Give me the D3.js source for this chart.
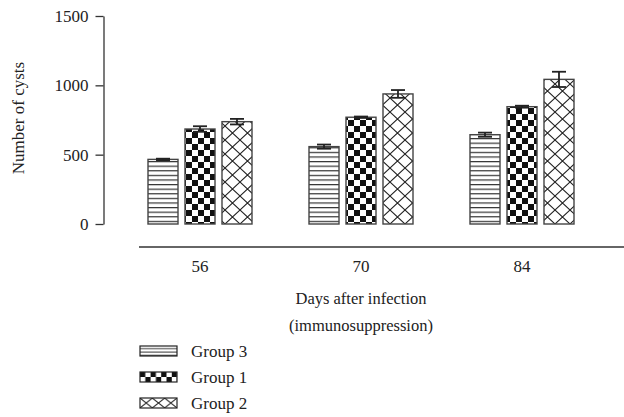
<!DOCTYPE html>
<html><head><meta charset="utf-8">
<script src="https://cdn.jsdelivr.net/npm/d3@7"></script>
<style>body{margin:0;background:#fff}svg{display:block}text{font-family:"Liberation Serif","DejaVu Serif",serif;fill:#222}</style>
</head><body>
<svg id="c" width="624" height="417"></svg>
<script>
const days = ["56", "70", "84"];
const groups = ["Group 3", "Group 1", "Group 2"];
const group3 = [466, 558, 644];
const group1 = [685, 770, 846];
const group2 = [738, 938, 1043];
const err3 = [5, 15, 15];
const err1 = [20, 5, 7];
const err2 = [20, 28, 55];
const yTicks = [0, 500, 1000, 1500];

const vals = [group3, group1, group2];
const errs = [err3, err1, err2];
const data = [];
days.forEach((d, i) => groups.forEach((g, j) => data.push({day: d, group: g, v: vals[j][i], e: errs[j][i], k: j})));

const svg = d3.select("#c");
const defs = svg.append("defs");
// pattern: horizontal lines
const p0 = defs.append("pattern").attr("id", "pat0").attr("patternUnits", "userSpaceOnUse").attr("width", 8).attr("height", 4.6);
p0.append("rect").attr("width", 8).attr("height", 4.6).attr("fill", "#fff");
p0.append("rect").attr("y", 0).attr("width", 8).attr("height", 1.2).attr("fill", "#333");
// checkerboard
const p1 = defs.append("pattern").attr("id", "pat1").attr("patternUnits", "userSpaceOnUse").attr("width", 12).attr("height", 12);
p1.append("rect").attr("width", 12).attr("height", 12).attr("fill", "#fff");
p1.append("rect").attr("width", 6).attr("height", 6).attr("fill", "#111");
p1.append("rect").attr("x", 6).attr("y", 6).attr("width", 6).attr("height", 6).attr("fill", "#111");
// crosshatch
const p2 = defs.append("pattern").attr("id", "pat2").attr("patternUnits", "userSpaceOnUse").attr("width", 15).attr("height", 14);
p2.append("rect").attr("width", 15).attr("height", 14).attr("fill", "#fff");
p2.append("path").attr("d", "M0,0L15,14M15,0L0,14").attr("stroke", "#222").attr("stroke-width", 1.1).attr("fill", "none");
// legend patterns (smaller)
const l0 = defs.append("pattern").attr("id", "lpat0").attr("patternUnits", "objectBoundingBox").attr("width", 1).attr("height", 1/3);
l0.append("rect").attr("width", 40).attr("height", 3.2).attr("fill", "#fff");
l0.append("rect").attr("y", 2.2).attr("width", 40).attr("height", 1).attr("fill", "#333");
const l1 = defs.append("pattern").attr("id", "lpat1").attr("patternUnits", "userSpaceOnUse").attr("width", 10.6).attr("height", 10);
l1.append("rect").attr("width", 10.6).attr("height", 10).attr("fill", "#fff");
l1.append("rect").attr("width", 5.3).attr("height", 5).attr("fill", "#111");
l1.append("rect").attr("x", 5.3).attr("y", 5).attr("width", 5.3).attr("height", 5).attr("fill", "#111");
const l2 = defs.append("pattern").attr("id", "lpat2").attr("patternUnits", "objectBoundingBox").attr("width", 1/3).attr("height", 1);
l2.append("rect").attr("width", 12.4).attr("height", 10).attr("fill", "#fff");
l2.append("path").attr("d", "M0,0L12.4,10M12.4,0L0,10").attr("stroke", "#222").attr("stroke-width", 1).attr("fill", "none");

const x = d3.scaleBand().domain(days).range([119.5, 602.5]).padding(0);
const xi = d3.scaleBand().domain(groups).range([-52, 52]).paddingInner(0.189).paddingOuter(0);
const y = d3.scaleLinear().domain([0, 1500]).range([224, 16]);

// y axis
const ya = svg.append("g").attr("transform", "translate(103.5,0)")
  .call(d3.axisLeft(y).tickValues(yTicks).tickFormat(d3.format("d")).tickSize(8).tickPadding(7).tickSizeOuter(0));
ya.select(".domain").attr("stroke", "#333").attr("stroke-width", 1.3);
ya.selectAll(".tick line").attr("stroke", "#333").attr("stroke-width", 1.3);
ya.selectAll("text").style("font-size", "17px").style("font-family", "Liberation Serif").attr("fill", "#222");

// x axis
const xa = svg.append("g").attr("transform", "translate(0,247)")
  .call(d3.axisBottom(x).tickSize(0).tickPadding(13));
xa.select(".domain").remove();
xa.selectAll("text").style("font-size", "17px").style("font-family", "Liberation Serif").attr("fill", "#222");
svg.append("line").attr("x1", 139).attr("x2", 624).attr("y1", 247).attr("y2", 247).attr("stroke", "#333").attr("stroke-width", 1.3);

// bars
const cx = d => x(d.day) + x.bandwidth() / 2 + xi(d.group);
svg.append("g").selectAll("rect").data(data).join("rect")
  .attr("x", d => cx(d))
  .attr("y", d => y(d.v))
  .attr("width", xi.bandwidth())
  .attr("height", d => y(0) - y(d.v))
  .attr("fill", d => `url(#pat${d.k})`)
  .attr("stroke", "#444").attr("stroke-width", 1.4);

// error bars
const eb = svg.append("g").attr("stroke", "#222").attr("stroke-width", 1.8);
data.forEach(d => {
  const m = cx(d) + xi.bandwidth() / 2;
  eb.append("line").attr("x1", m).attr("x2", m).attr("y1", y(d.v + d.e)).attr("y2", y(d.v - d.e));
  eb.append("line").attr("x1", m - 7).attr("x2", m + 7).attr("y1", y(d.v + d.e)).attr("y2", y(d.v + d.e));
  eb.append("line").attr("x1", m - 7).attr("x2", m + 7).attr("y1", y(d.v - d.e)).attr("y2", y(d.v - d.e));
});

// axis titles
svg.append("text").attr("transform", "translate(24,118) rotate(-90)").attr("text-anchor", "middle")
  .style("font-size", "17px").text("Number of cysts");
svg.append("text").attr("x", 361).attr("y", 304).attr("text-anchor", "middle").style("font-size", "16.5px").text("Days after infection");
svg.append("text").attr("x", 361).attr("y", 331).attr("text-anchor", "middle").style("font-size", "16.5px").text("(immunosuppression)");

// legend
const lg = svg.append("g").selectAll("g").data(groups).join("g")
  .attr("transform", (d, i) => `translate(140,${346 + i * 26})`);
lg.append("rect").attr("width", 37).attr("height", 10)
  .attr("fill", (d, i) => `url(#lpat${i})`).attr("stroke", "#222").attr("stroke-width", 1.2);
lg.append("text").attr("x", 51).attr("y", 10.5).style("font-size", "17px").text(d => d);
</script>
</body></html>
